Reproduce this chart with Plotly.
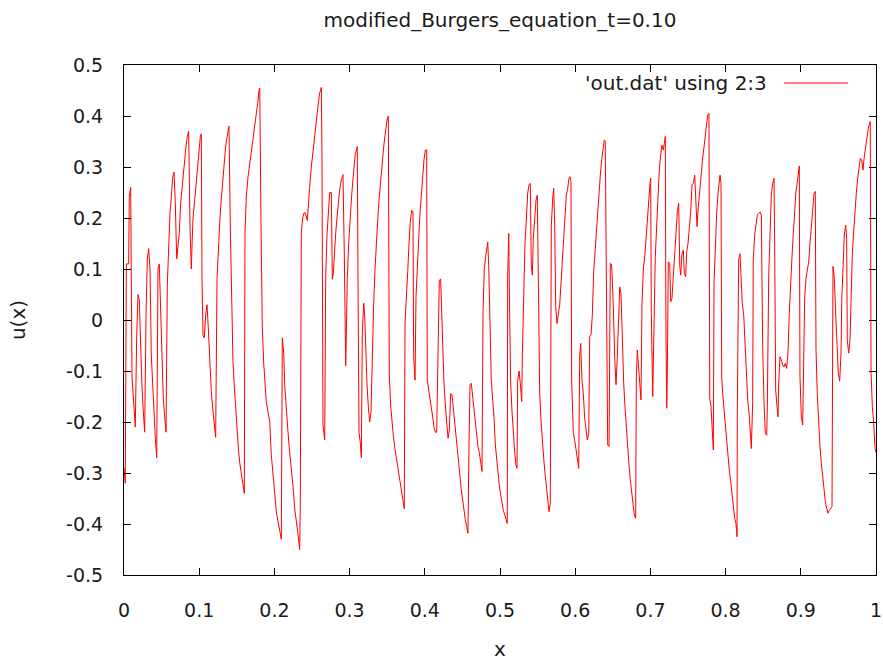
import plotly.graph_objects as go

# ---- data ----
x_vals = [
0.0000,0.0017,0.0031,0.0062,0.0070,0.0089,0.0106,0.0133,0.0150,0.0169,0.0186,0.0203,0.0222,0.0239,0.0257,0.0275,
0.0293,0.0310,0.0328,0.0346,0.0363,0.0382,0.0399,0.0416,0.0435,0.0452,0.0469,0.0488,0.0505,0.0523,0.0541,0.0559,
0.0576,0.0594,0.0612,0.0629,0.0648,0.0665,0.0682,0.0701,0.0718,0.0735,0.0754,0.0771,0.0789,0.0807,0.0824,0.0842,
0.0860,0.0878,0.0895,0.0908,0.0918,0.0940,0.0961,0.0980,0.0997,0.1015,0.1028,0.1037,0.1051,0.1068,0.1086,0.1104,
0.1121,0.1140,0.1161,0.1184,0.1201,0.1219,0.1237,0.1254,0.1273,0.1290,0.1307,0.1326,0.1343,0.1360,0.1379,0.1396,
0.1414,0.1432,0.1449,0.1467,0.1485,0.1503,0.1520,0.1539,0.1556,0.1582,0.1600,0.1609,0.1626,0.1649,0.1672,0.1693,
0.1715,0.1738,0.1759,0.1782,0.1795,0.1805,0.1822,0.1839,0.1858,0.1875,0.1892,0.1915,0.1938,0.1959,0.1981,0.2004,
0.2025,0.2048,0.2070,0.2092,0.2105,0.2124,0.2137,0.2158,0.2181,0.2203,0.2225,0.2247,0.2270,0.2291,0.2314,0.2336,
0.2344,0.2358,0.2376,0.2394,0.2411,0.2438,0.2456,0.2473,0.2491,0.2509,0.2527,0.2544,0.2563,0.2580,0.2602,0.2624,
0.2633,0.2646,0.2669,0.2682,0.2699,0.2717,0.2735,0.2757,0.2770,0.2783,0.2797,0.2815,0.2832,0.2850,0.2868,0.2890,
0.2912,0.2930,0.2939,0.2948,0.2956,0.2969,0.2988,0.3005,0.3023,0.3041,0.3059,0.3076,0.3094,0.3102,0.3112,0.3125,
0.3142,0.3156,0.3169,0.3188,0.3201,0.3214,0.3231,0.3249,0.3267,0.3285,0.3302,0.3320,0.3338,0.3355,0.3374,0.3391,
0.3408,0.3427,0.3444,0.3461,0.3480,0.3497,0.3515,0.3528,0.3547,0.3564,0.3581,0.3600,0.3621,0.3644,0.3666,0.3688,
0.3710,0.3727,0.3737,0.3754,0.3773,0.3790,0.3807,0.3826,0.3843,0.3852,0.3870,0.3883,0.3900,0.3919,0.3936,0.3953,
0.3972,0.3989,0.4007,0.4025,0.4033,0.4052,0.4069,0.4086,0.4105,0.4122,0.4140,0.4158,0.4176,0.4193,0.4211,0.4219,
0.4238,0.4255,0.4273,0.4291,0.4309,0.4326,0.4344,0.4362,0.4379,0.4398,0.4415,0.4432,0.4451,0.4468,0.4485,0.4504,
0.4521,0.4539,0.4557,0.4574,0.4588,0.4601,0.4618,0.4637,0.4654,0.4672,0.4690,0.4707,0.4725,0.4743,0.4761,0.4774,
0.4791,0.4810,0.4827,0.4837,0.4850,0.4867,0.4884,0.4903,0.4920,0.4938,0.4956,0.4973,0.4991,0.5009,0.5027,0.5044,
0.5063,0.5080,0.5097,0.5102,0.5116,0.5129,0.5142,0.5160,0.5177,0.5195,0.5213,0.5226,0.5235,0.5253,0.5270,0.5289,
0.5297,0.5315,0.5332,0.5350,0.5368,0.5386,0.5403,0.5416,0.5430,0.5443,0.5461,0.5479,0.5496,0.5509,0.5528,0.5545,
0.5563,0.5581,0.5598,0.5616,0.5634,0.5652,0.5669,0.5682,0.5701,0.5714,0.5727,0.5741,0.5758,0.5775,0.5794,0.5811,
0.5828,0.5847,0.5864,0.5882,0.5900,0.5918,0.5931,0.5944,0.5953,0.5975,0.5993,0.6011,0.6028,0.6047,0.6060,0.6073,
0.6090,0.6108,0.6126,0.6144,0.6161,0.6180,0.6193,0.6210,0.6227,0.6246,0.6263,0.6281,0.6299,0.6317,0.6334,0.6352,
0.6370,0.6387,0.6400,0.6414,0.6432,0.6450,0.6467,0.6485,0.6493,0.6507,0.6525,0.6543,0.6560,0.6579,0.6592,0.6609,
0.6626,0.6645,0.6662,0.6680,0.6698,0.6715,0.6733,0.6751,0.6769,0.6786,0.6804,0.6813,0.6826,0.6844,0.6858,0.6875,
0.6888,0.6906,0.6928,0.6941,0.6959,0.6977,0.6995,0.7004,0.7012,0.7031,0.7048,0.7065,0.7084,0.7101,0.7118,0.7137,
0.7154,0.7172,0.7185,0.7198,0.7207,0.7217,0.7225,0.7238,0.7257,0.7270,0.7287,0.7305,0.7323,0.7341,0.7358,0.7376,
0.7390,0.7403,0.7420,0.7438,0.7451,0.7469,0.7483,0.7500,0.7517,0.7536,0.7553,0.7571,0.7589,0.7602,0.7620,0.7637,
0.7656,0.7673,0.7690,0.7709,0.7726,0.7743,0.7762,0.7779,0.7789,0.7806,0.7823,0.7837,0.7846,0.7863,0.7882,0.7899,
0.7916,0.7926,0.7939,0.7948,0.7961,0.7979,0.7996,0.8015,0.8032,0.8049,0.8068,0.8085,0.8103,0.8121,0.8138,0.8152,
0.8156,0.8174,0.8191,0.8205,0.8222,0.8241,0.8258,0.8275,0.8294,0.8311,0.8328,0.8342,0.8360,0.8368,0.8387,0.8404,
0.8422,0.8440,0.8457,0.8475,0.8493,0.8511,0.8528,0.8547,0.8555,0.8573,0.8590,0.8608,0.8626,0.8644,0.8653,0.8666,
0.8684,0.8697,0.8706,0.8723,0.8741,0.8759,0.8777,0.8794,0.8812,0.8830,0.8847,0.8866,0.8883,0.8900,0.8919,0.8936,
0.8954,0.8967,0.8980,0.8989,0.9007,0.9025,0.9033,0.9052,0.9069,0.9087,0.9105,0.9122,0.9140,0.9158,0.9176,0.9193,
0.9202,0.9219,0.9238,0.9255,0.9273,0.9291,0.9309,0.9326,0.9344,0.9362,0.9379,0.9398,0.9415,0.9428,0.9446,0.9464,
0.9481,0.9499,0.9517,0.9535,0.9544,0.9561,0.9579,0.9597,0.9610,0.9618,0.9637,0.9654,0.9668,0.9685,0.9704,0.9721,
0.9738,0.9757,0.9774,0.9791,0.9810,0.9827,0.9844,0.9863,0.9880,0.9898,0.9916,0.9924,0.9934,0.9951,0.9969,0.9987,
1.0000]

u_vals = [
-0.29,-0.32,0.11,0.11,0.24,0.26,-0.11,-0.17,-0.21,-0.03,0.05,0.04,-0.07,-0.13,-0.18,-0.22,
0.01,0.12,0.14,0.10,-0.07,-0.14,-0.19,-0.23,-0.27,0.10,0.11,0.02,-0.09,-0.155,-0.19,-0.22,
0.07,0.16,0.21,0.24,0.28,0.29,0.23,0.12,0.145,0.17,0.23,0.26,0.29,0.31,0.34,0.36,
0.37,0.18,0.10,0.16,0.20,0.235,0.27,0.30,0.33,0.36,0.365,0.08,-0.03,-0.035,0.01,0.03,
-0.015,-0.08,-0.14,-0.18,-0.21,-0.23,0.08,0.15,0.19,0.23,0.265,0.295,0.325,0.35,0.37,0.38,
0.18,0.025,-0.08,-0.13,-0.18,-0.215,-0.25,-0.28,-0.30,-0.325,-0.34,0.17,0.24,0.28,0.305,0.335,
0.36,0.385,0.41,0.43,0.45,0.455,0.19,-0.015,-0.085,-0.125,-0.16,-0.18,-0.20,-0.265,-0.30,-0.345,
-0.375,-0.395,-0.415,-0.43,-0.035,-0.065,-0.127,-0.18,-0.22,-0.26,-0.29,-0.325,-0.37,-0.40,-0.42,-0.45,
-0.37,0.17,0.20,0.21,0.21,0.195,0.24,0.27,0.30,0.325,0.35,0.38,0.40,0.42,0.445,0.456,
0.317,-0.206,-0.235,0.085,0.165,0.21,0.25,0.25,0.08,0.09,0.14,0.17,0.20,0.23,0.255,0.275,
0.285,0.125,-0.08,-0.09,-0.03,0.08,0.15,0.20,0.235,0.27,0.30,0.326,0.335,0.34,0.075,-0.22,
-0.24,-0.27,-0.023,0.033,0.007,-0.072,-0.124,-0.17,-0.20,-0.18,-0.068,0.03,0.10,0.157,0.196,0.235,
0.268,0.297,0.324,0.35,0.373,0.392,0.40,-0.105,-0.17,-0.206,-0.226,-0.25,-0.27,-0.285,-0.307,-0.327,
-0.35,-0.37,-0.006,0.036,0.095,0.15,0.193,0.215,0.212,-0.072,-0.118,0.046,0.118,0.16,0.21,0.25,
0.285,0.314,0.333,0.334,-0.118,-0.137,-0.147,-0.167,-0.19,-0.21,-0.22,-0.22,-0.033,0.078,0.08,0.033,
-0.06,-0.124,-0.167,-0.206,-0.232,-0.216,-0.144,-0.147,-0.176,-0.196,-0.226,-0.252,-0.281,-0.31,-0.333,-0.353,
-0.376,-0.392,-0.405,-0.418,-0.242,-0.127,-0.124,-0.153,-0.176,-0.206,-0.232,-0.248,-0.26,-0.278,-0.297,0.013,
0.10,0.125,0.143,0.153,0.105,-0.049,-0.118,-0.157,-0.19,-0.245,-0.278,-0.304,-0.324,-0.343,-0.36,-0.373,
-0.382,-0.389,-0.399,0.085,0.17,0.007,-0.124,-0.18,-0.222,-0.258,-0.284,-0.291,-0.12,-0.10,-0.124,-0.16,
-0.069,0.088,0.15,0.196,0.248,0.265,0.268,0.108,0.088,0.16,0.196,0.235,0.245,0.118,-0.144,-0.196,
-0.242,-0.271,-0.30,-0.33,-0.356,-0.376,-0.36,0.183,0.239,0.258,0.19,0.026,-0.007,0.01,0.03,0.072,
0.114,0.157,0.196,0.245,0.258,0.278,0.281,0.271,-0.118,-0.222,-0.235,-0.258,-0.268,-0.291,-0.069,-0.046,
-0.118,-0.144,-0.193,-0.222,-0.235,-0.222,-0.033,-0.029,0.007,0.095,0.134,0.18,0.219,0.261,0.284,0.314,
0.333,0.353,0.35,0.111,-0.245,-0.248,0.111,0.108,0.059,0.026,-0.072,-0.127,-0.072,0.039,0.065,0.052,
-0.052,-0.124,-0.17,-0.216,-0.248,-0.284,-0.314,-0.34,-0.366,-0.382,-0.389,-0.114,-0.059,-0.095,-0.114,-0.157,
0.03,0.10,0.13,0.16,0.20,0.235,0.268,0.278,0.013,-0.15,0.013,0.124,0.186,0.245,0.294,0.324,
0.343,0.333,0.346,0.36,-0.033,-0.173,-0.105,0.114,0.111,0.036,0.042,0.085,0.134,0.176,0.212,0.229,
0.108,0.088,0.13,0.137,0.091,0.085,0.134,0.15,0.18,0.212,0.265,0.268,0.284,0.245,0.183,0.222,
0.248,0.281,0.31,0.337,0.356,0.379,0.402,0.405,-0.154,-0.17,-0.226,-0.255,0.072,0.153,0.212,0.248,
0.271,0.284,0.268,-0.111,-0.144,-0.176,-0.212,-0.235,-0.265,-0.294,-0.317,-0.343,-0.37,-0.389,-0.399,-0.425,
-0.17,0.118,0.13,0.072,0.033,0.01,-0.049,-0.114,-0.157,-0.18,-0.21,-0.252,-0.163,0.118,0.167,0.193,
0.206,0.209,0.212,0.206,-0.052,-0.163,-0.222,-0.226,-0.17,0.085,0.18,0.245,0.268,0.278,0.137,-0.137,
-0.17,-0.19,-0.124,-0.072,-0.078,-0.088,-0.092,-0.085,-0.095,-0.062,0.013,0.091,0.124,0.17,0.216,0.252,
0.271,0.294,0.302,-0.111,-0.19,-0.206,-0.144,0.046,0.082,0.095,0.114,0.15,0.19,0.219,0.248,0.252,
-0.056,-0.144,-0.212,-0.248,-0.281,-0.307,-0.333,-0.356,-0.369,-0.379,-0.373,-0.369,-0.366,0.105,0.082,0.013,
-0.062,-0.105,-0.12,-0.065,0.036,0.118,0.167,0.186,0.16,-0.039,-0.065,-0.039,0.062,0.128,0.176,0.222,
0.248,0.278,0.297,0.317,0.314,0.294,0.32,0.34,0.36,0.376,0.386,0.389,-0.101,-0.17,-0.20,-0.252,
-0.26]

x_tick_vals = [0, 0.1, 0.2, 0.3, 0.4, 0.5, 0.6, 0.7, 0.8, 0.9, 1.0]
x_tick_text = ["0", "0.1", "0.2", "0.3", "0.4", "0.5", "0.6", "0.7", "0.8", "0.9", "1"]
y_tick_vals = [-0.5, -0.4, -0.3, -0.2, -0.1, 0, 0.1, 0.2, 0.3, 0.4, 0.5]
y_tick_text = ["-0.5", "-0.4", "-0.3", "-0.2", "-0.1", "0", "0.1", "0.2", "0.3", "0.4", "0.5"]

title_text = "modified_Burgers_equation_t=0.10"
legend_text = "'out.dat' using 2:3"

FONT = "DejaVu Sans, Liberation Sans, sans-serif"
TXT = "#1a1a1a"

fig = go.Figure()
fig.add_trace(go.Scatter(x=x_vals, y=u_vals, mode="lines",
                         line=dict(color="#ff0000", width=1),
                         name=legend_text, showlegend=False))

axis_common = dict(showline=True, linecolor="black", linewidth=1, mirror="ticks",
                   ticks="inside", ticklen=7, tickcolor="black", tickwidth=1,
                   showgrid=False, zeroline=False, automargin=False,
                   tickfont=dict(family=FONT, size=19, color=TXT))

fig.update_xaxes(range=[0, 1], tickvals=x_tick_vals, ticktext=x_tick_text,
                 ticklabelstandoff=18,
                 title=dict(text="x", font=dict(family=FONT, size=20, color=TXT), standoff=22),
                 **axis_common)
fig.update_yaxes(range=[-0.5, 0.5], tickvals=y_tick_vals, ticktext=y_tick_text,
                 ticklabelstandoff=16,
                 title=dict(text="u(x)", font=dict(family=FONT, size=20, color=TXT), standoff=35),
                 **axis_common)

# gnuplot-style key: text on the left, sample line on the right
fig.add_annotation(xref="paper", yref="paper", x=0.8577, y=0.9647,
                   xanchor="right", yanchor="middle", showarrow=False,
                   text=legend_text, font=dict(family=FONT, size=20, color=TXT))
fig.add_shape(type="line", xref="paper", yref="paper",
              x0=0.8777, x1=0.9628, y0=0.9647, y1=0.9647,
              line=dict(color="#ff0000", width=1))

fig.update_layout(
    width=883, height=661,
    margin=dict(l=124, r=7, t=65, b=86),
    paper_bgcolor="white", plot_bgcolor="white",
    title=dict(text=title_text, x=0.5, xref="paper", xanchor="center",
               y=1 - 20 / 661, yref="container", yanchor="middle",
               font=dict(family=FONT, size=20, color=TXT)),
)

fig.write_html("out.html")
